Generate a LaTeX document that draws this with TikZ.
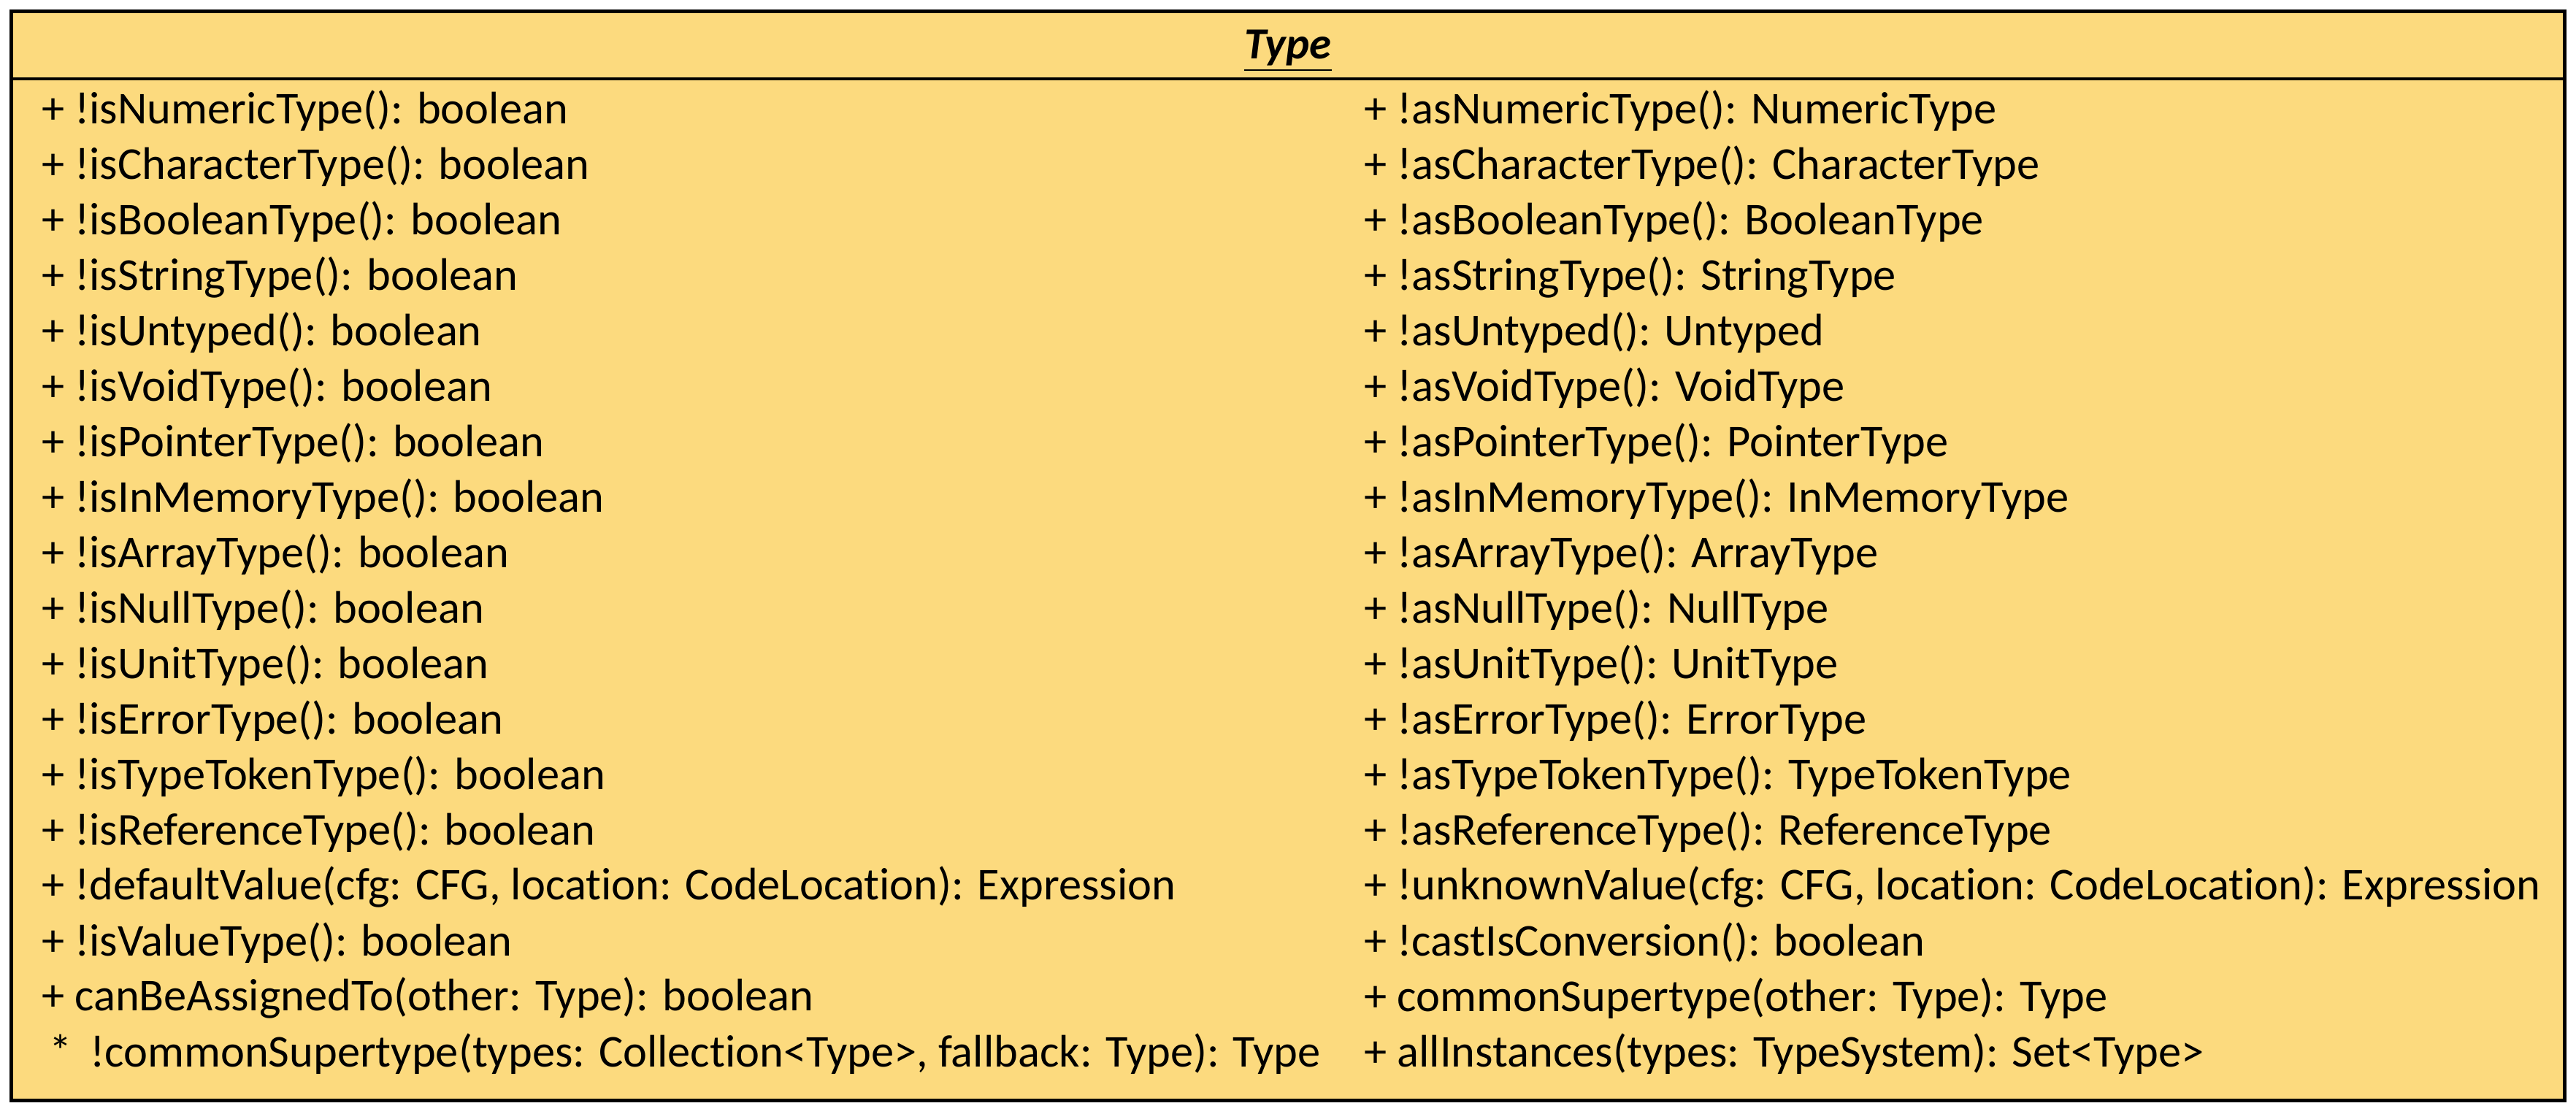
\documentclass[tikz,border=0pt]{standalone}
\usepackage{fontspec}
\setmainfont{Carlito}[Ligatures=CommonOff]
\usepackage{tikz}
\definecolor{classfill}{HTML}{FCDA7E}
\tikzset{
  member/.style={anchor=west, inner sep=0pt, font=\fontsize{15.8}{18}\selectfont},
}
\begin{document}
\begin{tikzpicture}[x=0.02cm, y=-0.02cm]
\useasboundingbox (0,0) rectangle (1568,677.8);
% Class box
\draw[line width=1.2pt, fill=classfill] (7,7) rectangle (1561,670);
\node[inner sep=0pt, font=\fontsize{15.4}{18}\selectfont\bfseries\itshape] (title) at (784,31) {\underline{Type}};
\coordinate (hl) at (7,48);
\coordinate (hr) at (1561,48);
\draw[line width=1.2pt] (hl) -- (hr);

% Left column
\foreach \t [count=\i from 0] in {
  + !isNumericType(): boolean,
  + !isCharacterType(): boolean,
  + !isBooleanType(): boolean,
  + !isStringType(): boolean,
  + !isUntyped(): boolean,
  + !isVoidType(): boolean,
  + !isPointerType(): boolean,
  + !isInMemoryType(): boolean,
  + !isArrayType(): boolean,
  + !isNullType(): boolean,
  + !isUnitType(): boolean,
  + !isErrorType(): boolean,
  + !isTypeTokenType(): boolean,
  + !isReferenceType(): boolean,
  {+ !defaultValue(cfg: CFG, location: CodeLocation): Expression},
  + !isValueType(): boolean,
  + canBeAssignedTo(other: Type): boolean,
  {\,* \,!commonSupertype(types: Collection<Type>, fallback: Type): Type}}
  \node[member] (l\i) at (25,67.5+33.76*\i) {\t};

% Right column
\foreach \t [count=\i from 0] in {
  + !asNumericType(): NumericType,
  + !asCharacterType(): CharacterType,
  + !asBooleanType(): BooleanType,
  + !asStringType(): StringType,
  + !asUntyped(): Untyped,
  + !asVoidType(): VoidType,
  + !asPointerType(): PointerType,
  + !asInMemoryType(): InMemoryType,
  + !asArrayType(): ArrayType,
  + !asNullType(): NullType,
  + !asUnitType(): UnitType,
  + !asErrorType(): ErrorType,
  + !asTypeTokenType(): TypeTokenType,
  + !asReferenceType(): ReferenceType,
  {+ !unknownValue(cfg: CFG, location: CodeLocation): Expression},
  + !castIsConversion(): boolean,
  + commonSupertype(other: Type): Type,
  + allInstances(types: TypeSystem): Set<Type>}
  \node[member] (r\i) at (830,67.5+33.76*\i) {\t};
\end{tikzpicture}
\end{document}
